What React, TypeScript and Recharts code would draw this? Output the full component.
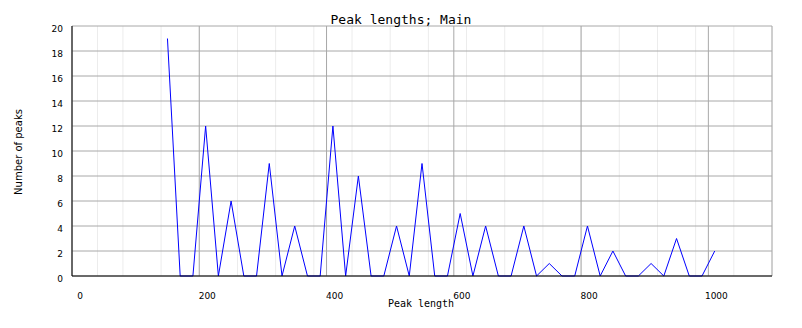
import { CartesianGrid, Line, LineChart, XAxis, YAxis } from 'recharts';

const peakLengths = [
  150, 170, 190, 210, 230, 250, 270, 290, 310, 330, 350, 370, 390, 410, 430,
  450, 470, 490, 510, 530, 550, 570, 590, 610, 630, 650, 670, 690, 710, 730,
  750, 770, 790, 810, 830, 850, 870, 890, 910, 930, 950, 970, 990, 1010,
];
const peakCounts = [
  19, 0, 0, 12, 0, 6, 0, 0, 9, 0, 4, 0, 0, 12, 0,
  8, 0, 0, 4, 0, 9, 0, 0, 5, 0, 4, 0, 0, 4, 0,
  1, 0, 0, 4, 0, 2, 0, 0, 1, 0, 3, 0, 0, 2,
];
const xTicks = [0, 200, 400, 600, 800, 1000];
const yTicks = [0, 2, 4, 6, 8, 10, 12, 14, 16, 18, 20];
// light minor grid every 20 units
const minorXTicks = Array.from({ length: 56 }, (_, i) => i * 20);

const W = 802;
const H = 328;
const MONO = '"DejaVu Sans Mono", monospace';
const SANS = '"DejaVu Sans", sans-serif';

function XTick({ x, y, payload }: any) {
  return (
    <text x={x + 8} y={y + 15} textAnchor="middle" fontSize={9} fontFamily={SANS} fill="#000">
      {payload.value}
    </text>
  );
}

function YTick({ x, y, payload }: any) {
  return (
    <text x={x - 1} y={y + 6} textAnchor="end" fontSize={9} fontFamily={SANS} fill="#000">
      {payload.value}
    </text>
  );
}

export default function App() {
  const data = peakLengths.map((len, i) => ({ len, count: peakCounts[i] }));

  return (
    <div style={{ position: 'absolute', left: 0, top: 0, width: W, height: H, background: '#fff' }}>
      <LineChart width={W} height={H} data={data} margin={{ top: 26, right: 30, left: 0, bottom: 22 }}>
        <XAxis
          xAxisId="minor"
          dataKey="len"
          type="number"
          domain={[0, 1100]}
          ticks={minorXTicks}
          hide
        />
        <CartesianGrid xAxisId="minor" horizontal={false} stroke="#ececec" />
        <CartesianGrid stroke="#a8a8a8" />
        <XAxis
          dataKey="len"
          type="number"
          domain={[0, 1100]}
          ticks={xTicks}
          height={30}
          tickLine={false}
          axisLine={{ stroke: '#000' }}
          tick={<XTick />}
        />
        <YAxis
          domain={[0, 20]}
          ticks={yTicks}
          width={72}
          tickLine={false}
          axisLine={{ stroke: '#000' }}
          tick={<YTick />}
        />
        <Line
          dataKey="count"
          type="linear"
          stroke="#0000ff"
          strokeWidth={1}
          dot={false}
          isAnimationActive={false}
        />
      </LineChart>
      <svg width={W} height={H} style={{ position: 'absolute', left: 0, top: 0, pointerEvents: 'none' }}>
        <text x={401} y={23.5} textAnchor="middle" fontSize={13} fontFamily={MONO} fill="#000">
          Peak lengths; Main
        </text>
        <text x={421} y={306.5} textAnchor="middle" fontSize={10} fontFamily={MONO} fill="#000">
          Peak length
        </text>
        <text
          x={0}
          y={0}
          transform="translate(22,152) rotate(-90)"
          textAnchor="middle"
          fontSize={10}
          fontFamily={SANS}
          fill="#000"
        >
          Number of peaks
        </text>
      </svg>
    </div>
  );
}
